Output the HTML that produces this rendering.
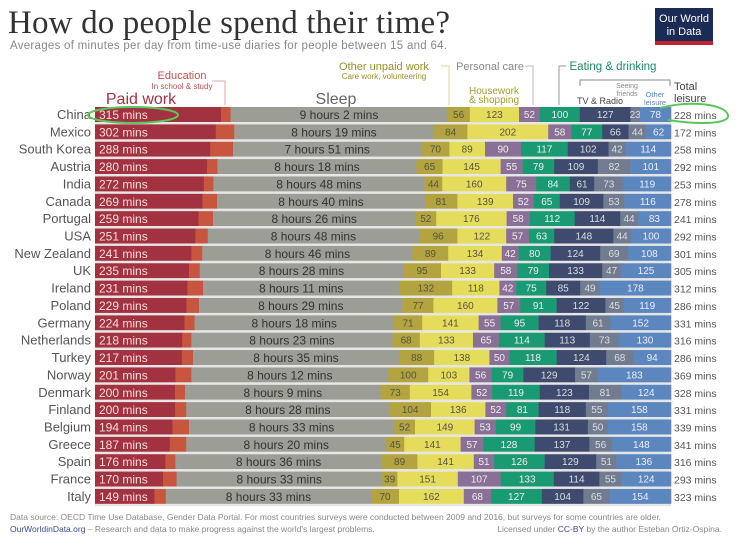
<!DOCTYPE html>
<html><head><meta charset="utf-8"><style>
body{margin:0;background:#fff;width:749px;height:553px;overflow:hidden}
svg{display:block;font-family:"Liberation Sans",sans-serif}
</style></head><body>
<svg id="s" width="749" height="553" xmlns="http://www.w3.org/2000/svg">
<text x="8" y="33" font-family="Liberation Serif,serif" font-size="33" fill="#333" textLength="442">How do people spend their time?</text>
<text x="10" y="49" font-size="11.5" fill="#888" textLength="437">Averages of minutes per day from time-use diaries for people between 15 and 64.</text>
<rect x="655" y="8" width="58" height="37" fill="#1a2b55"/>
<rect x="655" y="41" width="58" height="4" fill="#c2232f"/>
<text x="684" y="22" font-size="11" fill="#fff" text-anchor="middle">Our World</text>
<text x="684" y="35" font-size="11" fill="#fff" text-anchor="middle">in Data</text>
<text x="182" y="79" font-size="11" fill="#c0504d" text-anchor="middle">Education</text>
<text x="182" y="89" font-size="8" fill="#c0504d" text-anchor="middle">In school &amp; study</text>
<path d="M212 81 H225 V105" stroke="#d8a8a8" fill="none"/>
<text x="141" y="104" font-size="16" fill="#a2323f" text-anchor="middle">Paid work</text>
<text x="336" y="104" font-size="16" fill="#666" text-anchor="middle">Sleep</text>
<text x="384" y="70" font-size="11" fill="#9a8f2a" text-anchor="middle">Other unpaid work</text>
<text x="384" y="79" font-size="8" fill="#9a8f2a" text-anchor="middle">Care work, volunteering</text>
<path d="M441 66 H449 V105" stroke="#ddd5a0" fill="none"/>
<text x="490" y="70" font-size="11" fill="#888" text-anchor="middle">Personal care</text>
<path d="M525 66 H533 V105" stroke="#bbb" fill="none"/>
<text x="494" y="94" font-size="10" fill="#a89a2a" text-anchor="middle">Housework</text>
<text x="494" y="103" font-size="10" fill="#a89a2a" text-anchor="middle">&amp; shopping</text>
<path d="M566 66 H559 V105" stroke="#999" fill="none"/>
<text x="613" y="70" font-size="11.5" fill="#1a8a64" text-anchor="middle">Eating &amp; drinking</text>
<path d="M580 86 V80 H670 V86" stroke="#888" fill="none"/>
<text x="627" y="88" font-size="7" fill="#888" text-anchor="middle">Seeing</text>
<text x="627" y="96" font-size="7" fill="#888" text-anchor="middle">friends</text>
<text x="600" y="104" font-size="9" fill="#444" text-anchor="middle">TV &amp; Radio</text>
<text x="655" y="97" font-size="7.5" fill="#5b86be" text-anchor="middle">Other</text>
<text x="655" y="105" font-size="7.5" fill="#5b86be" text-anchor="middle">leisure</text>
<text x="674" y="90" font-size="11" fill="#444">Total</text>
<text x="674" y="102" font-size="11" fill="#444">leisure</text>
<g id="rows"></g>
<ellipse cx="133" cy="115" rx="45" ry="8" fill="none" stroke="#5ac85a" stroke-width="2"/>
<path d="M660 108 C690 100 725 104 728 115 C730 124 700 125 668 120" fill="none" stroke="#5ac85a" stroke-width="2"/>
<text x="10" y="520" font-size="8.5" fill="#888">Data source: OECD Time Use Database, Gender Data Portal. For most countries surveys were conducted between 2009 and 2016, but surveys for some countries are older.</text>
<text x="10" y="532" font-size="8.5" fill="#888"><tspan fill="#3a4a9a">OurWorldinData.org</tspan> – Research and data to make progress against the world's largest problems.</text>
<text x="722" y="532" font-size="8.5" fill="#888" text-anchor="end">Licensed under <tspan fill="#3a4a9a">CC-BY</tspan> by the author Esteban Ortiz-Ospina.</text>
</svg>
<script>
var D=[["China",315,542,56,123,52,100,127,23,78,228],["Mexico",302,499,84,202,58,77,66,44,62,172],["South Korea",288,471,70,89,90,117,102,42,114,258],["Austria",280,498,65,145,55,79,109,82,101,292],["India",272,528,44,160,75,84,61,73,119,253],["Canada",269,520,81,139,52,65,109,53,116,278],["Portugal",259,506,52,176,58,112,114,44,83,241],["USA",251,528,96,122,57,63,148,44,100,292],["New Zealand",241,526,89,134,42,80,124,69,108,301],["UK",235,508,95,133,58,79,133,47,125,305],["Ireland",231,491,132,118,42,75,85,49,178,312],["Poland",229,509,77,160,57,91,122,45,119,286],["Germany",224,498,71,141,55,95,118,61,152,331],["Netherlands",218,503,68,133,65,114,113,73,130,316],["Turkey",217,515,88,138,50,118,124,68,94,286],["Norway",201,492,100,103,56,79,129,57,183,369],["Denmark",200,489,73,154,52,119,123,81,124,328],["Finland",200,508,104,136,52,81,118,55,158,331],["Belgium",194,513,52,149,53,99,131,50,158,339],["Greece",187,500,45,141,57,128,137,56,148,341],["Spain",176,516,89,141,51,126,129,51,136,316],["France",170,513,39,151,107,133,114,55,124,293],["Italy",149,513,70,162,68,127,104,65,154,323]];
var C=["#a2323f","#c8553d","#9c9e96","#b3a43f","#e6dc5c","#8a7096","#1a9a72","#3e4b6e","#727c90","#5b86be"];
var T=["#f3d8d8","","#333","#554","#554","#eee","#eee","#ddd","#ddd","#eef"];
var s="",k=0.4,X=95,H=15;
D.forEach(function(r,i){
 var y=107+i*17.36;
 var v=[r[1],0,r[2],r[3],r[4],r[5],r[6],r[7],r[8],r[9]];
 var sum=v.reduce(function(a,b){return a+b},0);v[1]=Math.max(0,1440-sum);
 s+='<text x="91" y="'+(y+12)+'" font-size="13" fill="#555" text-anchor="end">'+r[0]+'</text>';
 var x=X;
 v.forEach(function(m,j){var w=m*k;if(w<=0)return;
  s+='<rect x="'+x+'" y="'+y+'" width="'+(w+0.3)+'" height="'+H+'" fill="'+C[j]+'"/>';
  var lab="";
  if(j==0){lab=m+" mins";s+='<text x="'+(x+4)+'" y="'+(y+12)+'" font-size="12" fill="#f5dede">'+lab+'</text>';}
  else if(j==2){var h=Math.floor(m/60),mm=m%60;lab=h+" hours "+mm+" mins";s+='<text x="'+(x+w/2)+'" y="'+(y+12)+'" font-size="12" fill="#333" text-anchor="middle">'+lab+'</text>';}
  else if(j>2){s+='<text x="'+(x+w/2)+'" y="'+(y+11)+'" font-size="10" fill="'+T[j]+'" text-anchor="middle">'+m+'</text>';}
  x+=w;});
 s+='<rect x="'+X+'" y="'+(y+H)+'" width="576" height="2.3" fill="#e6e6e6"/>';
 s+='<text x="674" y="'+(y+12)+'" font-size="10.5" fill="#555">'+r[10]+' mins</text>';
});
document.getElementById("rows").innerHTML=s;
</script>
</body></html>
